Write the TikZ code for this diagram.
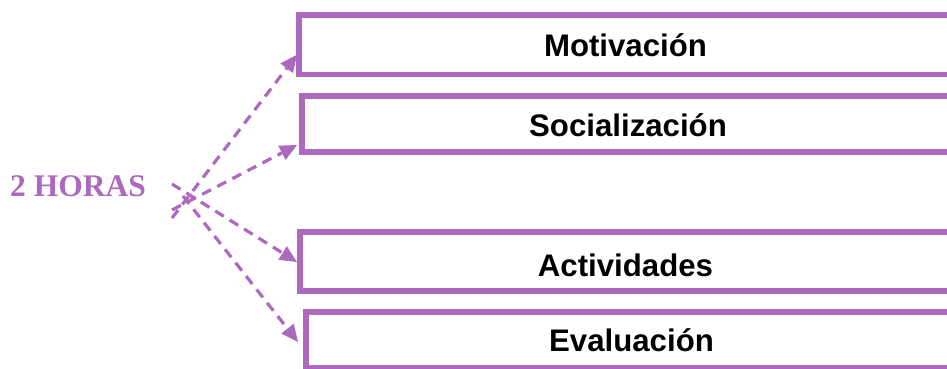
\documentclass[tikz,border=0pt]{standalone}
\usepackage{fontspec}
\setmainfont{Liberation Serif}
\newfontfamily\arialf{Liberation Sans}
\usetikzlibrary{arrows.meta}
\definecolor{lila}{RGB}{173,105,189}
\tikzset{
  box/.style={draw=lila, line width=5.5pt, rectangle, inner sep=0pt, outer sep=0pt},
  boxtext/.style={anchor=base, inner sep=0pt, font=\arialf\bfseries\fontsize{31.2}{37}\selectfont, text=black},
  conn/.style={draw=lila, line width=3.2pt, dash pattern=on 10pt off 7pt, -{Triangle[length=17pt,width=16pt,line width=0pt]}},
}
\begin{document}
\begin{tikzpicture}[x=1pt,y=1pt]
\useasboundingbox (0,0) rectangle (947,369);
% boxes
\node[box, minimum width=653pt, minimum height=59.5pt] (b1) at (625.5,324.25) {};
\node[box, minimum width=652pt, minimum height=56pt] (b2) at (628,245) {};
\node[box, minimum width=651pt, minimum height=59pt] (b3) at (625.5,107.5) {};
\node[box, minimum width=651pt, minimum height=56pt] (b4) at (631.5,29) {};
% texts
\node[boxtext] (t1) at (625.5,312) {Motivación};
\node[boxtext] (t2) at (628,232) {Socialización};
\node[boxtext] (t3) at (625.5,92) {Actividades};
\node[boxtext] (t4) at (631.5,17) {Evaluación};
% source label
\node[anchor=base west, inner sep=0pt, text=lila, font=\bfseries\fontsize{31.5}{37}\selectfont] (h) at (10,172) {2 HORAS};
% start points
\coordinate (s1) at (172,151);
\coordinate (s2) at (172,159);
\coordinate (s3) at (172,185);
\coordinate (s4) at (183,173);
% connectors
\draw[conn] (s1) -- ([xshift=-2pt,yshift=-10pt]b1.west);
\draw[conn] (s2) -- ([xshift=-5pt,yshift=-21pt]b2.west);
\draw[conn] (s3) -- ([xshift=-3pt,yshift=-0.5pt]b3.west);
\draw[conn] (s4) -- ([xshift=-8pt,yshift=-2pt]b4.west);
\end{tikzpicture}
\end{document}
